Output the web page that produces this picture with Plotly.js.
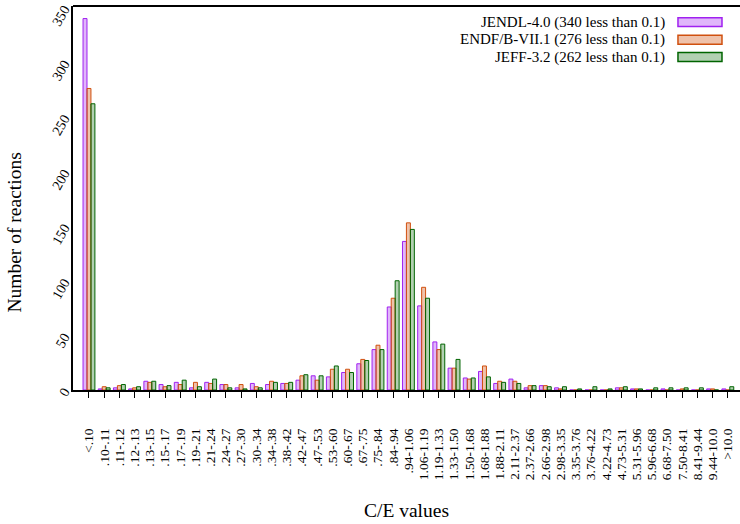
<!DOCTYPE html>
<html>
<head>
<meta charset="utf-8">
<script src="https://cdn.plot.ly/plotly-3.0.1.min.js"></script>
<style>html,body{margin:0;padding:0;background:#fff}#chart{width:740px;height:524px}</style>
</head>
<body>
<div id="chart"></div>
<script>
const categories = ['<.10','.10-.11','.11-.12','.12-.13','.13-.15','.15-.17','.17-.19','.19-.21','.21-.24','.24-.27','.27-.30','.30-.34','.34-.38','.38-.42','.42-.47','.47-.53','.53-.60','.60-.67','.67-.75','.75-.84','.84-.94','.94-1.06','1.06-1.19','1.19-1.33','1.33-1.50','1.50-1.68','1.68-1.88','1.88-2.11','2.11-2.37','2.37-2.66','2.66-2.98','2.98-3.35','3.35-3.76','3.76-4.22','4.22-4.73','4.73-5.31','5.31-5.96','5.96-6.68','6.68-7.50','7.50-8.41','8.41-9.44','9.44-10.0','>10.0'];
const jendl = [340,1,2,1,8,5,7,2,7,5,2,6,5,6,9,13,12,16,24,37,76,136,77,44,20,11,17,6,10,2,4,2,0,0,0,2,1,0,1,0,0,1,1];
const endf  = [276,3,4,2,7,3,5,7,6,5,5,3,8,6,13,9,19,19,28,41,84,153,94,37,20,10,22,8,8,4,4,1,0,0,0,2,1,0,0,1,0,1,0];
const jeff  = [262,2,5,3,8,4,9,3,10,2,1,2,7,7,14,13,22,16,27,37,100,147,84,42,28,11,12,7,6,4,3,3,1,3,1,3,1,2,2,2,2,0,3];
const seriesNames = ['JENDL-4.0','ENDF/B-VII.1','JEFF-3.2'];
const yTicks = [0,50,100,150,200,250,300,350];

const seriesData = [jendl, endf, jeff];
const lineColors = ['#a020f0','#d0500f','#006400'];
const fillColors = ['rgba(160,32,240,0.33)','rgba(208,80,15,0.35)','rgba(0,100,0,0.3)'];
const FONT = '"Liberation Serif", "Times New Roman", serif';

const traces = seriesData.map((d,i)=>({
  type:'bar', x: categories.map((c,k)=>k), y: d, name: seriesNames[i],
  marker:{color: fillColors[i], line:{color: lineColors[i], width:1}},
  showlegend:false, hoverinfo:'skip'
}));

const legendY = [0.958, 0.912, 0.867];
const annotations = seriesNames.map((n,i)=>({
  xref:'paper', yref:'paper', x:0.8906, y:legendY[i], xanchor:'right', yanchor:'middle',
  text: n + ' (' + seriesData[i][0] + ' less than 0.1)', showarrow:false,
  font:{family:FONT, size:15, color:'#000'}
}));
annotations.push({xref:'paper', yref:'paper', x:-0.087, y:0.41, textangle:-90, showarrow:false,
  text:'Number of reactions', font:{family:FONT, size:19.5, color:'#000'}, xanchor:'center', yanchor:'middle'});
annotations.push({xref:'paper', yref:'paper', x:0.5, y:-0.313, showarrow:false,
  text:'C/E values', font:{family:FONT, size:19.5, color:'#000'}, xanchor:'center', yanchor:'middle'});
const shapes = seriesNames.map((n,i)=>({
  type:'rect', xref:'paper', yref:'paper', x0:0.907, x1:0.973, y0:legendY[i]-0.0117, y1:legendY[i]+0.0117,
  fillcolor: fillColors[i], line:{color: lineColors[i], width:1.5}
}));
shapes.push({type:'line', xref:'paper', yref:'paper', x0:0, x1:1, y0:1, y1:1, line:{color:'#000', width:2}});

const layout = {
  width:740, height:524,
  margin:{l:73, r:0, t:6, b:134},
  paper_bgcolor:'#fff', plot_bgcolor:'#fff',
  barmode:'group', bargap:0.22, bargroupgap:0,
  font:{family:FONT, color:'#000'},
  xaxis:{
    range:[-1.05, 42.8], tickmode:'array', tickvals: categories.map((c,k)=>k), ticktext: categories,
    tickangle:-90, ticks:'outside', ticklen:6, tickcolor:'#000', tickwidth:1,
    showline:true, linecolor:'#000', linewidth:2, showgrid:false, zeroline:false,
    tickfont:{family:FONT, size:13.5, color:'#000'}, ticklabelstandoff:25
  },
  yaxis:{
    range:[0, 351.5], tickmode:'array', tickvals:yTicks, ticktext:yTicks.map(String),
    tickangle:-60, ticks:'', showline:true, linecolor:'#000', linewidth:2,
    showgrid:false, zeroline:false, tickfont:{family:FONT, size:14, color:'#000'}, ticklabelstandoff:4
  },
  annotations, shapes
};
Plotly.newPlot('chart', traces, layout, {displayModeBar:false, staticPlot:true});
</script>
</body>
</html>
